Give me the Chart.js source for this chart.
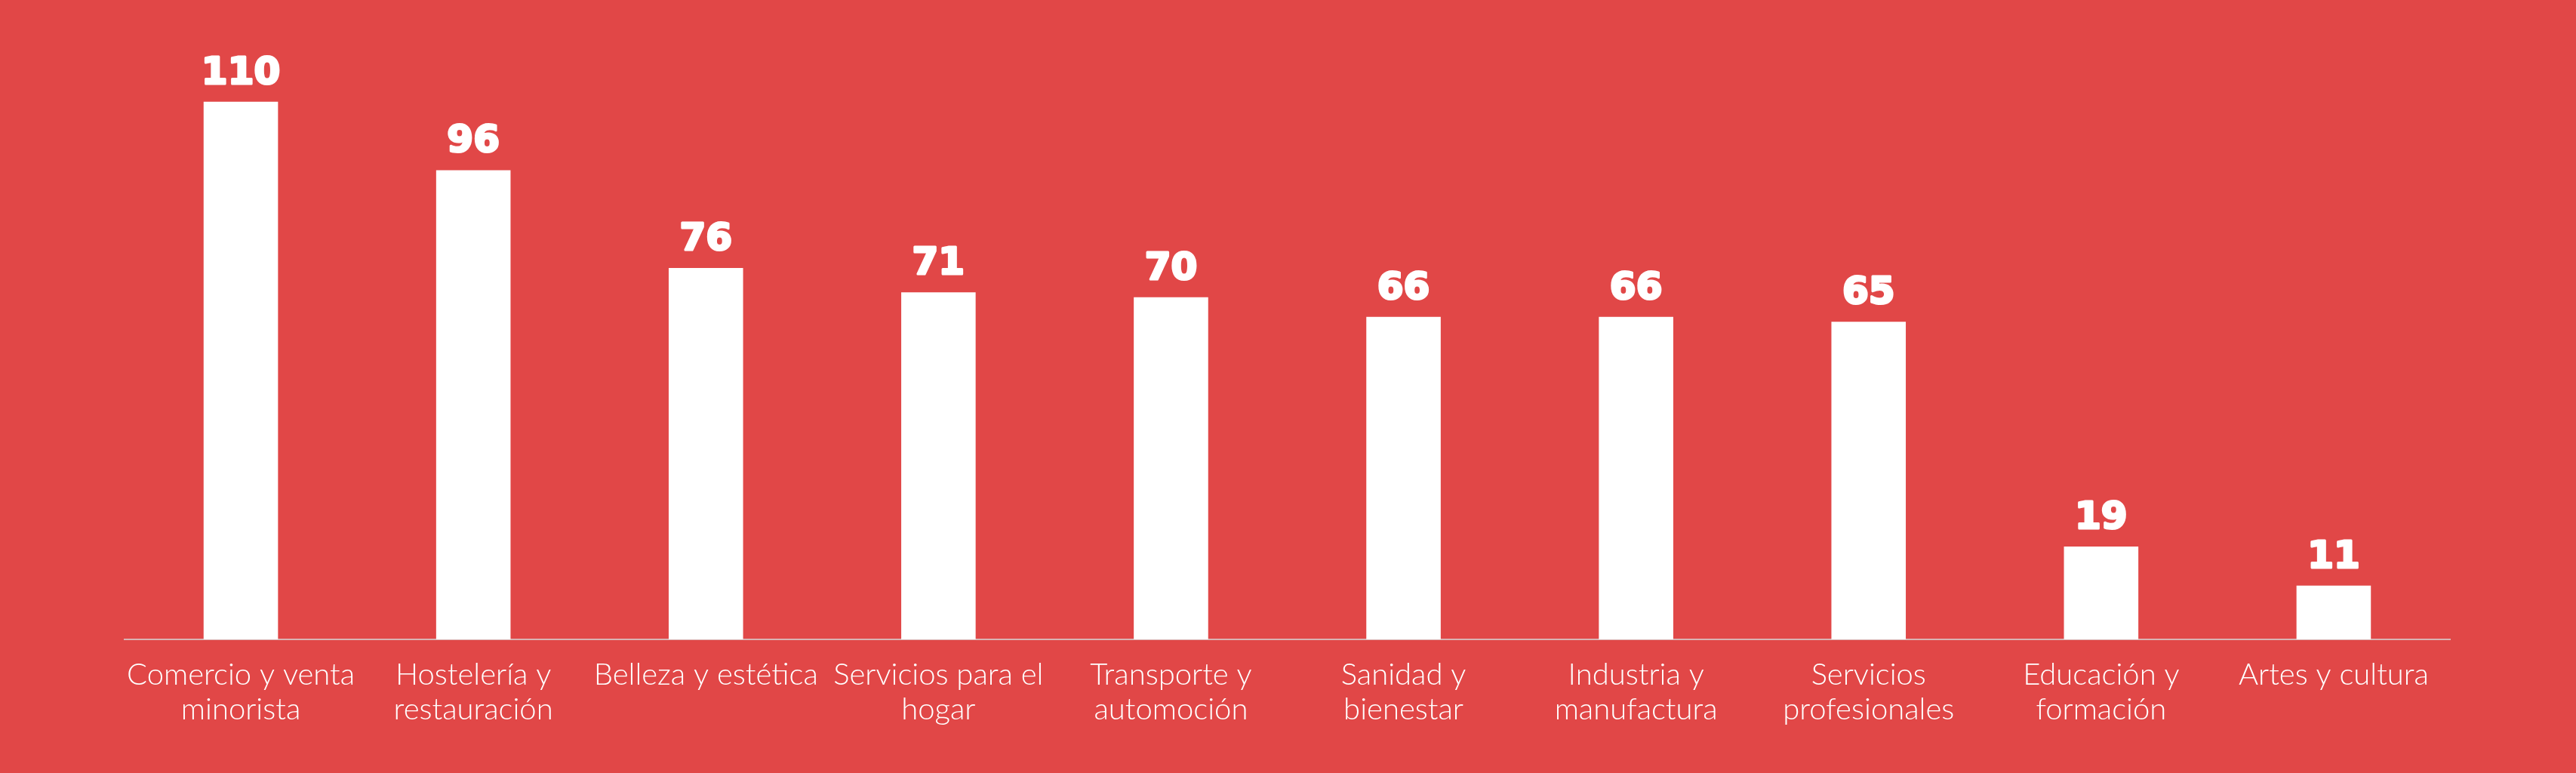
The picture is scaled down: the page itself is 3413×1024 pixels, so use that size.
<!DOCTYPE html>
<html>
<head>
<meta charset="utf-8">
<script src="https://cdn.jsdelivr.net/npm/chart.js@4.4.1/dist/chart.umd.min.js"></script>
<style>
  html, body { margin: 0; padding: 0; background: #E14747; }
  #wrap { width: 3413px; height: 1024px; position: relative; }
</style>
</head>
<body>
<div id="wrap"><canvas id="sectorChart"></canvas></div>
<script>
// ==================== DATA ====================
const categories = [
    ['Comercio y venta', 'minorista'],
    ['Hostelería y', 'restauración'],
    'Belleza y estética',
    ['Servicios para el', 'hogar'],
    ['Transporte y', 'automoción'],
    ['Sanidad y', 'bienestar'],
    ['Industria y', 'manufactura'],
    ['Servicios', 'profesionales'],
    ['Educación y', 'formación'],
    'Artes y cultura'
];
const counts = [110, 96, 76, 71, 70, 66, 66, 65, 19, 11];
const yMin = 0;
const yMax = 120;

// ==================== VALUE LABELS ====================
const valueLabels = {
    id: 'valueLabels',
    afterDatasetsDraw(chart) {
        const ctx = chart.ctx;
        const meta = chart.getDatasetMeta(0);
        ctx.save();
        ctx.fillStyle = '#ffffff';
        ctx.strokeStyle = '#ffffff';
        ctx.lineWidth = 3;
        ctx.lineJoin = 'round';
        ctx.font = 'bold 50px "DejaVu Sans"';
        ctx.textAlign = 'center';
        ctx.textBaseline = 'bottom';
        meta.data.forEach((bar, i) => {
            ctx.strokeText(String(counts[i]), bar.x, bar.y - 12);
            ctx.fillText(String(counts[i]), bar.x, bar.y - 12);
        });
        ctx.restore();
    }
};

// ==================== CHART ====================
const ctx = document.getElementById('sectorChart').getContext('2d');
new Chart(ctx, {
    type: 'bar',
    data: {
        labels: categories,
        datasets: [{
            data: counts,
            backgroundColor: '#ffffff',
            borderWidth: 0,
            categoryPercentage: 1,
            barPercentage: 0.32
        }]
    },
    options: {
        responsive: true,
        maintainAspectRatio: false,
        animation: false,
        layout: { padding: { top: 70, left: 165, right: 167, bottom: 45 } },
        plugins: { legend: { display: false }, tooltip: { enabled: false } },
        scales: {
            x: {
                grid: { display: false },
                border: { display: true, color: '#d9b3b3', width: 2 },
                ticks: {
                    color: '#ffffff',
                    font: { family: 'Lato', size: 40, weight: '300', lineHeight: 1.15 },
                    padding: 16,
                    maxRotation: 0,
                    autoSkip: false
                }
            },
            y: {
                display: false,
                min: yMin,
                max: yMax
            }
        }
    },
    plugins: [valueLabels]
});
</script>
</body>
</html>
